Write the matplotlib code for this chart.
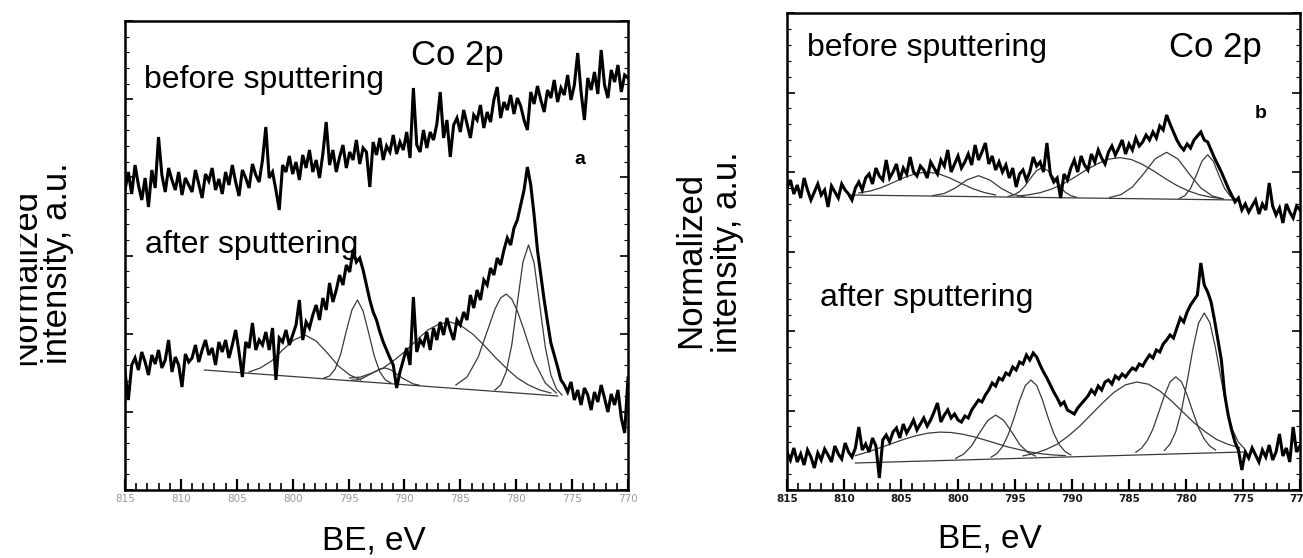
import numpy as np
import matplotlib
matplotlib.use("Agg")
import matplotlib.pyplot as plt
from matplotlib.ticker import MultipleLocator
from matplotlib.transforms import Bbox, TransformedBbox

plt.rcParams['font.family'] = ['Liberation Sans', 'DejaVu Sans']

W, H = 1303, 558

# ---------------- data (BE in eV, intensity in arbitrary units) ----------------
be_grid = np.round(np.linspace(815, 770, 151), 2)   # 0.3 eV sampling
x_ticks = [815, 810, 805, 800, 795, 790, 785, 780, 775, 770]

# panel a, raw spectra
a_before = [300, 318, 296, 325, 305, 290, 312, 283, 320, 302,
            353, 315, 298, 322, 310, 300, 318, 295, 312, 305,
            298, 320, 306, 292, 316, 309, 322, 300, 311, 296,
            318, 305, 325, 308, 294, 320, 312, 302, 326, 315,
            308, 330, 363, 312, 318, 300, 280, 325, 318, 334,
            316, 328, 310, 335, 322, 340, 318, 330, 312, 336,
            368, 325, 340, 318, 333, 345, 322, 338, 330, 350,
            326, 342, 338, 303, 348, 335, 352, 330, 344, 338,
            355, 336, 348, 340, 358, 332, 402, 345, 338, 360,
            342, 358, 350, 366, 398, 352, 370, 333, 365, 372,
            358, 380, 366, 352, 375, 370, 385, 362, 378, 368,
            390, 403, 372, 388, 380, 395, 376, 392, 384, 370,
            360, 398, 386, 404, 390, 378, 400, 392, 410, 388,
            402, 395, 415, 390, 405, 437, 398, 370, 412, 400,
            418, 396, 440, 405, 392, 420, 408, 425, 398, 415, 412]
a_after = [118, 90, 125, 132, 120, 138, 128, 115, 135, 126,
           140, 122, 130, 150, 118, 133, 125, 103, 136, 128,
           132, 145, 128, 140, 150, 135, 142, 125, 148, 138,
           150, 132, 145, 160, 138, 113, 148, 142, 167, 140,
           150, 145, 158, 140, 162, 110, 152, 148, 160, 145,
           155, 165, 190, 150, 168, 162, 175, 185, 170, 192,
           180, 207, 188, 200, 215, 205, 225, 218, 240, 228,
           232, 220, 205, 190, 178, 170, 158, 148, 140, 132,
           125, 102, 118, 130, 142, 125, 193, 138, 150, 145,
           158, 140, 162, 150, 168, 155, 172, 160, 150, 170,
           165, 178, 170, 195, 182, 200, 190, 210, 205, 222,
           215, 232, 225, 240, 252, 245, 262, 270, 285, 300,
           323, 305, 275, 240, 215, 190, 168, 147, 135, 123,
           110, 105, 98, 108, 90, 100, 85, 102, 95, 80,
           98, 88, 105, 92, 78, 96, 85, 100, 72, 57, 112]

# panel a, fitted components (after sputtering)
a_bg_be = [807.9, 776.3]
a_bg = [120, 94]
a_c1_be = [803.9, 802.9, 801.9, 800.9, 799.9, 798.9, 797.9, 796.9, 795.9, 794.9, 793.9]
a_c1 = [118, 122, 129, 140, 150, 155, 149, 137, 124, 115, 110]
a_c2_be = [797.2, 796.7, 796.2, 795.7, 795.2, 794.7, 794.2, 793.7, 793.2, 792.7, 792.2, 791.7, 791.2]
a_c2 = [112, 114, 121, 136, 159, 180, 190, 179, 157, 134, 118, 110, 107]
a_c3_be = [794.7, 794.2, 793.7, 793.2, 792.7, 792.2, 791.7, 791.2, 790.7, 790.2, 789.7, 789.2, 788.7]
a_c3 = [110, 110, 112, 115, 118, 121, 122, 120, 116, 112, 109, 106, 105]
a_c4_be = [794.9, 793.9, 792.9, 791.9, 790.9, 789.9, 788.9, 787.9, 786.9, 785.9,
           784.9, 783.9, 782.9, 781.9, 780.9, 779.9, 778.9, 777.9, 776.9]
a_c4 = [112, 113, 117, 122, 130, 139, 150, 160, 166, 168, 164, 156, 145, 133, 122, 112, 105, 100, 97]
a_c5_be = [785.4, 784.4, 783.4, 782.4, 781.9, 781.4, 780.9, 780.4, 779.9, 779.4, 778.4, 777.4, 776.4]
a_c5 = [105, 113, 133, 165, 181, 192, 196, 191, 179, 163, 129, 107, 97]
a_c6_be = [781.9, 781.4, 780.9, 780.4, 779.9, 779.4, 778.9, 778.4, 777.9, 777.4, 776.9, 776.4, 775.9]
a_c6 = [100, 105, 118, 145, 187, 228, 245, 227, 185, 143, 115, 101, 95]

# panel b, raw spectra
b_before = [302, 310, 296, 305, 292, 312, 300, 290, 298, 306,
            295, 300, 283, 304, 298, 292, 306, 300, 296, 290,
            302, 308, 300, 312, 316, 306, 322, 314, 310, 330,
            312, 318, 326, 310, 322, 316, 333, 318, 314, 324,
            320, 312, 328, 322, 316, 330, 324, 340, 318, 326,
            334, 322, 328, 336, 325, 345, 330, 338, 347, 326,
            334, 320, 328, 318, 325, 312, 322, 303, 316, 320,
            310, 318, 333, 324, 328, 318, 347, 316, 308, 312,
            292, 316, 310, 322, 330, 318, 334, 325, 320, 336,
            328, 340, 332, 326, 338, 344, 335, 342, 350, 336,
            346, 340, 352, 344, 348, 355, 350, 358, 352, 364,
            360, 375, 366, 358, 350, 344, 340, 346, 342, 350,
            354, 358, 350, 348, 340, 332, 325, 318, 310, 302,
            295, 288, 292, 280, 286, 278, 284, 290, 276, 286,
            280, 307, 284, 275, 282, 267, 286, 278, 272, 284, 280]
b_after = [38, 30, 42, 28, 36, 25, 40, 33, 22, 37,
           30, 41, 35, 28, 44, 36, 31, 47, 38, 33,
           42, 63, 40, 46, 38, 52, 44, 12, 50, 55,
           48, 58, 62, 52, 66, 57, 63, 70, 60, 66,
           72, 64, 70, 78, 87, 68, 75, 80, 72, 76,
           70, 68, 74, 72, 80, 85, 90, 88, 95, 100,
           107, 104, 112, 110, 117, 115, 123, 120, 128, 126,
           135, 130, 137, 133, 125, 118, 112, 105, 98, 92,
           85, 88, 80, 78, 76, 82, 86, 90, 94, 100,
           96, 104, 100, 108, 110, 106, 114, 111, 116, 113,
           118, 122, 120, 126, 124, 130, 135, 132, 140, 138,
           146, 150, 155, 152, 162, 172, 168, 178, 185, 190,
           195, 227, 205, 198, 188, 170, 150, 130, 95, 75,
           60, 48, 40, 20, 38, 32, 42, 35, 28, 40,
           33, 45, 30, 38, 56, 34, 42, 28, 63, 38, 44]

# panel b, fitted components before sputtering
b1_bg_be = [809.5, 775.5]
b1_bg = [295, 290]
b1_c1_be = [808.7, 807.7, 806.7, 805.7, 804.7, 803.7, 802.7, 801.7, 800.7, 799.7, 798.7, 797.7, 796.7]
b1_c1 = [297, 299, 302.5, 307.4, 312.5, 316.5, 318, 316.2, 311.9, 306.5, 301.3, 297.5, 295]
b1_c2_be = [802.2, 801.2, 800.2, 799.2, 798.2, 797.2, 796.2, 795.2, 794.2]
b1_c2 = [294.5, 296.5, 302.2, 310.2, 314.3, 309.9, 301.6, 295.6, 293.3]
b1_c3_be = [795.6, 795.1, 794.6, 794.1, 793.6, 793.1, 792.6, 792.1, 791.6, 791.1, 790.6, 790.1, 789.6]
b1_c3 = [293.6, 295.1, 298.4, 304.3, 312.4, 319.5, 322.4, 319.3, 312.1, 303.9, 297.8, 294.3, 292.7]
b1_c4_be = [794.8, 793.8, 792.8, 791.8, 790.8, 789.8, 788.8, 787.8, 786.8, 785.8,
            784.8, 783.8, 782.8, 781.8, 780.8, 779.8, 778.8, 777.8, 776.8]
b1_c4 = [294, 295.2, 297.3, 300.9, 306, 312.5, 319.7, 326.1, 330.8, 332.4,
         330.5, 325.5, 318.8, 311.3, 304.5, 299.1, 295.2, 292.8, 291.2]
b1_c5_be = [786.7, 785.7, 784.7, 783.7, 782.7, 781.7, 780.7, 779.7, 778.7, 777.7, 776.7]
b1_c5 = [292.5, 295.4, 303, 316.5, 331.2, 337.7, 330.9, 315.8, 302.1, 294.1, 291]
b1_c6_be = [780.6, 780.1, 779.6, 779.1, 778.6, 778.1, 777.6, 777.1, 776.6, 776.1, 775.6]
b1_c6 = [291.5, 294.3, 301.6, 314.6, 328.9, 335.2, 328.7, 314.3, 301.2, 293.7, 290.7]

# panel b, fitted components after sputtering
b2_bg_be = [809.0, 775.0]
b2_bg = [27, 38]
b2_c1_be = [809.0, 808.6, 807.6, 806.6, 805.6, 804.6, 803.6, 802.6, 801.6, 800.6,
            799.6, 798.6, 797.6, 796.6, 795.6, 794.6, 793.6, 792.6, 791.6, 790.6]
b2_c1 = [34.4, 35.7, 39.2, 43.2, 47.3, 51.2, 54.5, 56.9, 57.9, 57.5,
         55.8, 53.2, 49.9, 46.4, 43, 40.3, 37.9, 36.1, 35, 34.4]
b2_c2_be = [800.2, 799.5, 798.8, 798.1, 797.4, 796.7, 796.0, 795.3, 794.6, 793.9, 793.2]
b2_c2 = [31.7, 35.9, 44.3, 57.3, 69.4, 74.9, 69.8, 58.2, 45.7, 37.7, 33.9]
b2_c3_be = [797.1, 796.6, 796.1, 795.6, 795.1, 794.6, 794.1, 793.6, 793.1, 792.6,
            792.1, 791.6, 791.1, 790.6, 790.1]
b2_c3 = [32.8, 36.3, 43.3, 55.2, 71.5, 89.6, 104.3, 110, 104.6, 90.3, 72.5, 56.5, 45, 38.4, 35.1]
b2_c4_be = [794.3, 793.3, 792.3, 791.3, 790.3, 789.3, 788.3, 787.3, 786.3, 785.3,
            784.3, 783.3, 782.3, 781.3, 780.3, 779.3, 778.3, 777.3, 776.3, 775.3]
b2_c4 = [34.1, 36.5, 40.4, 45.8, 54.2, 64.1, 75.7, 87.3, 97.8, 105.2,
         108, 105.8, 99.1, 89.3, 78.3, 67.3, 58.1, 50.4, 45.6, 42.3]
b2_c5_be = [784.4, 783.9, 783.4, 782.9, 782.4, 781.9, 781.4, 780.9, 780.4, 779.9,
            779.4, 778.9, 778.4, 777.9, 777.4]
b2_c5 = [37.8, 41.8, 49.3, 61, 77.4, 94.4, 108, 113.2, 108.3, 95, 78.3, 62.3, 50.9, 43.7, 40]
b2_c6_be = [781.9, 781.4, 780.9, 780.4, 779.9, 779.4, 778.9, 778.4, 777.9, 777.4,
            776.9, 776.4, 775.9, 775.4, 774.9]
b2_c6 = [39.5, 45.9, 58.2, 79.2, 108.5, 140.7, 166.9, 177, 167.2, 141.3, 109.5, 80.5, 59.8, 47.8, 41.7]

a_fits = [(a_bg_be, a_bg), (a_c1_be, a_c1), (a_c2_be, a_c2), (a_c3_be, a_c3),
          (a_c4_be, a_c4), (a_c5_be, a_c5), (a_c6_be, a_c6)]
b_fits = [(b1_bg_be, b1_bg), (b1_c1_be, b1_c1), (b1_c2_be, b1_c2), (b1_c3_be, b1_c3),
          (b1_c4_be, b1_c4), (b1_c5_be, b1_c5), (b1_c6_be, b1_c6),
          (b2_bg_be, b2_bg), (b2_c1_be, b2_c1), (b2_c2_be, b2_c2), (b2_c3_be, b2_c3),
          (b2_c4_be, b2_c4), (b2_c5_be, b2_c5), (b2_c6_be, b2_c6)]

# ---------------- figure ----------------
fig = plt.figure(figsize=(W / 100, H / 100), dpi=100)


def px_box(l, t, r, b):
    return [l / W, 1 - b / H, (r - l) / W, (b - t) / H]


def fx(px):
    return px / W


def fy(py):
    return 1 - py / H


def style(ax, ytop, lab_color, lab_weight):
    ax.set_xlim(815, 770)
    ax.set_ylim(0, ytop)
    ax.set_xticks(x_ticks)
    ax.set_xticklabels([str(t) for t in x_ticks], fontsize=7.5, color=lab_color,
                       fontweight=lab_weight, family='DejaVu Sans')
    ax.xaxis.set_minor_locator(MultipleLocator(1))
    ax.yaxis.set_major_locator(MultipleLocator(ytop / 6))
    ax.yaxis.set_minor_locator(MultipleLocator(ytop / 30))
    ax.tick_params(axis='x', which='both', direction='in', top=False, bottom=True, pad=3)
    ax.tick_params(axis='x', which='major', length=8, width=1.6)
    ax.tick_params(axis='x', which='minor', length=5, width=1.2)
    ax.tick_params(axis='y', which='both', direction='in', left=True, right=True,
                   labelleft=False)
    ax.tick_params(axis='y', which='major', length=6, width=1.2)
    ax.tick_params(axis='y', which='minor', length=3, width=0.8)
    for s in ax.spines.values():
        s.set_linewidth(1.8)


ax_a = fig.add_axes(px_box(125, 21, 628, 490))
ax_b = fig.add_axes(px_box(787, 13, 1300, 490))

style(ax_a, 469, '#9a9a9a', 'normal')
style(ax_b, 477, '#1a1a1a', 'bold')

fit_kw = dict(color='#3a3a3a', lw=0.9)
for be, val in a_fits:
    ax_a.plot(be, val, **fit_kw)
for be, val in b_fits:
    ax_b.plot(be, val, **fit_kw)

raw_kw = dict(color='black', lw=2.2, solid_joinstyle='miter')
ax_a.plot(be_grid, a_before, **raw_kw)
ax_a.plot(be_grid, a_after, **raw_kw)
ax_b.plot(be_grid, b_before, **raw_kw)
ax_b.plot(be_grid, b_after, **raw_kw)

# in-plot labels
txt = dict(fontsize=23, ha='center', va='center')
fig.text(fx(264), fy(80), 'before sputtering', **txt)
fig.text(fx(252), fy(245), 'after sputtering', **txt)
fig.text(fx(457), fy(55), 'Co 2p', fontsize=25, ha='center', va='center')
fig.text(fx(580), fy(160), 'a', fontsize=14, fontweight='bold', ha='center', va='center')

fig.text(fx(927), fy(48), 'before sputtering', **txt)
fig.text(fx(927), fy(298), 'after sputtering', **txt)
fig.text(fx(1215), fy(47), 'Co 2p', fontsize=25, ha='center', va='center')
fig.text(fx(1261), fy(114), 'b', fontsize=14, fontweight='bold', ha='center', va='center')

# axis titles
fig.text(fx(374), fy(541), 'BE, eV', fontsize=24, ha='center', va='center')
fig.text(fx(990), fy(539), 'BE, eV', fontsize=24, ha='center', va='center')

# y titles; the first line of panel a is partly cut off in the source scan
ylab = dict(fontsize=25, rotation=90, ha='center', va='center')
t_norm_a = fig.text(fx(26), fy(277), 'Normalized', **ylab)
t_norm_a.set_clip_box(TransformedBbox(Bbox([[20 / W, 0], [1, 1]]), fig.transFigure))
t_norm_a.set_clip_on(True)
fig.text(fx(58), fy(263), 'intensity, a.u.', **ylab)
fig.text(fx(691), fy(260), 'Normalized', **ylab)
fig.text(fx(727), fy(252), 'intensity, a.u.', **ylab)

fig.savefig('out.png', dpi=100, facecolor='white')
